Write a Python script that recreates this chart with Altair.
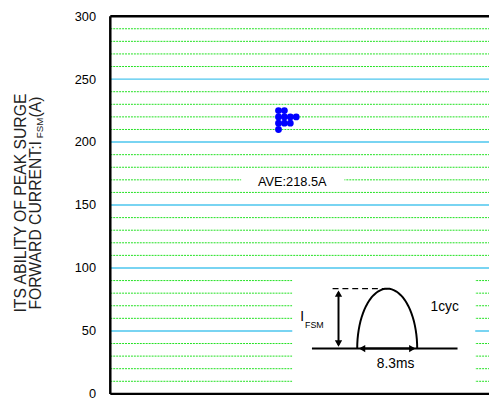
import altair as alt
import pandas as pd
import numpy as np

# ---- data ----
Y_TICKS = [0, 50, 100, 150, 200, 250, 300]
MAJOR_GRID = [50, 100, 150, 200, 250]
MINOR_GRID = [v for v in range(10, 300, 10) if v % 50 != 0]

SURGE_VALUES = [225, 225, 220, 220, 220, 220, 215, 215, 215, 210]   # A
SAMPLE_COLUMN = [0, 1, 0, 1, 2, 3, 0, 1, 2, 0]
AVE_TEXT = "AVE:218.5A"

TITLE_LINE1 = "ITS ABILITY OF PEAK SURGE"
TITLE_LINE2 = ["FORWARD CURRENT:I", "FSM", "(A)"]

# ---- layout (pixel units along x, amps along y) ----
W = 385
H = 384
FONT = "Liberation Sans"

xs = alt.Scale(domain=[0, W], nice=False, zero=False)
ys = alt.Scale(domain=[0, 300], nice=False, zero=True)

yaxis = alt.Axis(values=Y_TICKS, grid=False, domain=False, ticks=False,
                 labelFont=FONT, labelFontSize=13, labelColor="black",
                 labelPadding=15, title=None)

def X(f="x"):
    return alt.X(f"{f}:Q", scale=xs, axis=None)

def Y(f="y"):
    return alt.Y(f"{f}:Q", scale=ys, axis=yaxis)

# grid
minor_df = pd.DataFrame({"y": MINOR_GRID, "x": 0, "x2": W})
major_df = pd.DataFrame({"y": MAJOR_GRID, "x": 0, "x2": W})
minor = alt.Chart(minor_df).mark_rule(color="#1ee01e", strokeWidth=1, strokeDash=[2, 1]).encode(
    x=X(), x2="x2:Q", y=Y())
major = alt.Chart(major_df).mark_rule(color="#4cc6ee", strokeWidth=1.5).encode(
    x=X(), x2="x2:Q", y=Y())

# white boxes behind annotations
boxes_df = pd.DataFrame({"x": [133, 185], "x2": [238, 371],
                         "y": [164, 3.9], "y2": [176, 97.7]})
boxes = alt.Chart(boxes_df).mark_rect(color="white").encode(
    x=X(), x2="x2:Q", y=Y(), y2="y2:Q")

# data dots
dots_df = pd.DataFrame({"y": SURGE_VALUES, "col": SAMPLE_COLUMN})
dots_df["x"] = 171 + dots_df["col"] * 6
dots = alt.Chart(dots_df).mark_circle(color="#0000ff", opacity=1, size=48).encode(x=X(), y=Y())

ave = alt.Chart(pd.DataFrame({"x": [185], "y": [168], "t": [AVE_TEXT]})).mark_text(
    font=FONT, fontSize=13, color="black").encode(x=X(), y=Y(), text="t:N")

# inset diagram
base_v = 36
peak_v = 83.6
foot_l, foot_r = 251, 312
cx, a = (foot_l + foot_r) / 2, (foot_r - foot_l) / 2
t = np.linspace(0, np.pi, 41)
arc_df = pd.DataFrame({"x": cx + a * np.cos(t), "y": base_v + (peak_v - base_v) * np.sin(t),
                       "o": np.arange(41)})
arc = alt.Chart(arc_df).mark_line(color="black", strokeWidth=2).encode(
    x=X(), y=Y(), order="o:Q")

seg_df = pd.DataFrame({
    "x": [205, 232, 255],
    "x2": [353, 232, 308],
    "y": [base_v, base_v + 3, base_v],
    "y2": [base_v, peak_v - 3, base_v],
})
segs = alt.Chart(seg_df).mark_rule(color="black", strokeWidth=2).encode(
    x=X(), x2="x2:Q", y=Y(), y2="y2:Q")
dash = alt.Chart(pd.DataFrame({"x": [226], "x2": [cx], "y": [peak_v]})).mark_rule(
    color="black", strokeWidth=1.5, strokeDash=[6, 4]).encode(x=X(), x2="x2:Q", y=Y())

heads_df = pd.DataFrame({
    "x": [232, 232, foot_l + 5, foot_r - 5],
    "y": [peak_v - 4, base_v + 4, base_v, base_v],
    "s": ["triangle-up", "triangle-down", "triangle-left", "triangle-right"],
})
heads = alt.Chart(heads_df).mark_point(filled=True, color="black", opacity=1, size=55).encode(
    x=X(), y=Y(), shape=alt.Shape("s:N", scale=None))

inset_txt_df = pd.DataFrame({
    "x": [193, 198, 340, 290],
    "y": [61, 55, 68.75, 24],
    "t": ["I", "FSM", "1cyc", "8.3ms"],
    "fs": [14, 9, 14, 14],
    "al": ["left", "left", "center", "center"],
})
inset_txt = alt.layer(*[
    alt.Chart(inset_txt_df.iloc[[i]]).mark_text(font=FONT, fontSize=int(r.fs), align=r.al,
                                                 color="black").encode(x=X(), y=Y(), text="t:N")
    for i, r in enumerate(inset_txt_df.itertuples())
])

# borders
border_df = pd.DataFrame({"x": [0, 0, 0], "x2": [0, W, W], "y": [0, 300, 0], "y2": [300, 300, 0]})
borders = alt.Chart(border_df).mark_rule(color="black", strokeWidth=2.5).encode(
    x=X(), x2="x2:Q", y=Y(), y2="y2:Q")

# y title (rotated, with subscript)
c_y = 190
fs = 16
w1 = 174.2
w2 = 21.1
w3 = 21.3
total2 = w1 + w2 + w3
start = c_y + total2 / 2
x1, x2 = -91, -75
title1 = alt.Chart(pd.DataFrame({"t": [TITLE_LINE1]})).mark_text(
    font=FONT, fontSize=fs, angle=270, align="center", baseline="middle", color="#222").encode(
    x=alt.value(x1), y=alt.value(c_y), text="t:N")
t2a = alt.Chart(pd.DataFrame({"t": [TITLE_LINE2[0]]})).mark_text(
    font=FONT, fontSize=fs, angle=270, align="left", baseline="middle", color="#222").encode(
    x=alt.value(x2), y=alt.value(start), text="t:N")
t2b = alt.Chart(pd.DataFrame({"t": [TITLE_LINE2[1]]})).mark_text(
    font=FONT, fontSize=10, angle=270, align="left", baseline="middle", color="#222").encode(
    x=alt.value(x2 + 4), y=alt.value(start - w1), text="t:N")
t2c = alt.Chart(pd.DataFrame({"t": [TITLE_LINE2[2]]})).mark_text(
    font=FONT, fontSize=fs, angle=270, align="left", baseline="middle", color="#222").encode(
    x=alt.value(x2), y=alt.value(start - w1 - w2), text="t:N")

chart = alt.layer(
    minor, major, boxes, dots, ave, arc, segs, dash, heads, inset_txt,
    borders, title1, t2a, t2b, t2c
).properties(
    width=W, height=H,
    autosize=alt.AutoSizeParams(type="none"),
    padding={"left": 104, "top": 5, "right": 0, "bottom": 8},
).configure_view(stroke=None)

chart.save("out.html", embed_options={"renderer": "svg", "actions": False})
